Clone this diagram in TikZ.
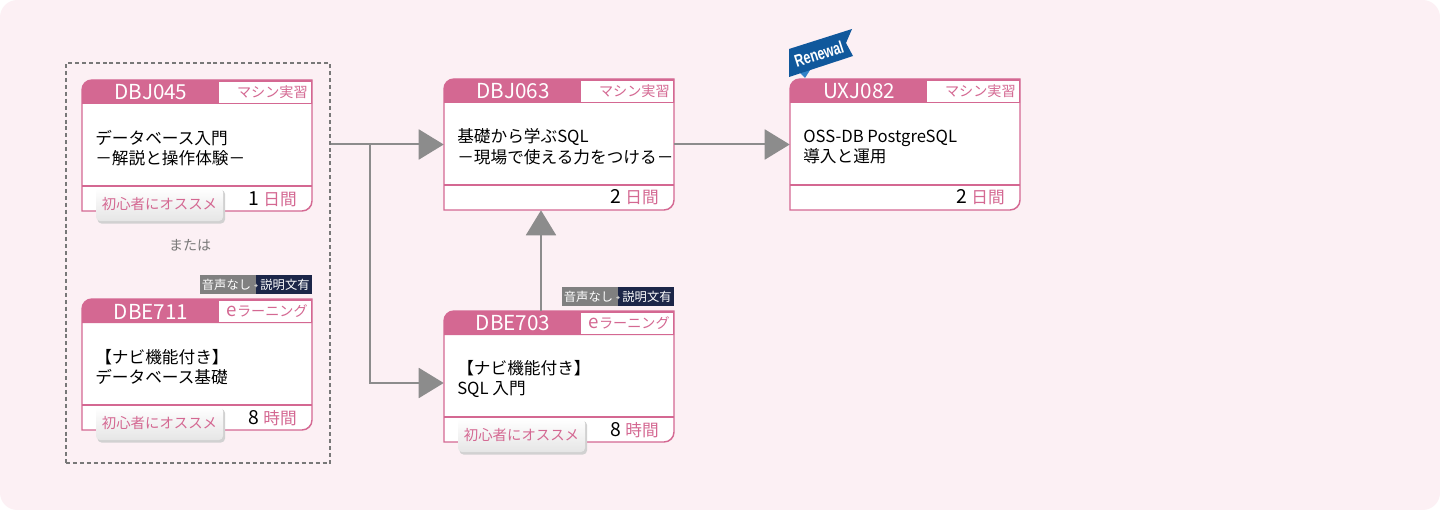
\documentclass[tikz,border=0pt]{standalone}
\usepackage{fontspec}
\setmainfont{Noto Sans CJK JP}
\newfontfamily\renewfont{Liberation Sans}
\usetikzlibrary{arrows.meta,fit}
\definecolor{pk}{RGB}{212,104,146}
\definecolor{bgpk}{RGB}{252,240,244}
\definecolor{cgray}{RGB}{140,140,140}
\definecolor{navy}{RGB}{28,38,72}
\definecolor{bgray}{RGB}{128,128,128}
\definecolor{rbl}{RGB}{16,88,156}
\definecolor{rbl2}{RGB}{50,130,200}
\definecolor{dgray}{RGB}{120,120,120}
\tikzset{
 codetxt/.style={text=white, font=\fontsize{15.5}{17}\selectfont, inner sep=0},
 lbltxt/.style={text=pk, font=\fontsize{10.6}{12}\selectfont, inner sep=0},
 bodytxt/.style={text=black, font=\fontsize{12.5}{15.5}\selectfont, align=left, inner sep=0, anchor=west},
 foottxt/.style={font=\fontsize{14.5}{15}\selectfont, inner sep=0, anchor=base east},
 rectxt/.style={text=pk, font=\fontsize{10.8}{12}\selectfont, inner sep=0},
 badgetxt/.style={text=white, font=\fontsize{9.2}{11}\selectfont, inner sep=0},
 boxnode/.style={minimum width=172.5pt, minimum height=98.25pt, inner sep=0},
 grpbox/.style={draw=dgray, line width=1.1pt, dash pattern=on 3pt off 2.2pt, inner sep=0},
 conn/.style={draw=cgray, line width=1.5pt, -{Triangle[length=18.75pt,width=22.5pt]}},
 ortxt/.style={text=dgray, font=\fontsize{10.5}{12}\selectfont, inner sep=0},
 renewtxt/.style={text=white, font=\renewfont\bfseries\fontsize{13}{13}\selectfont, inner sep=0}
}
\newcommand\coursebox[9]{%
\begin{scope}[shift={(#2,-#3)}]
\fill[white] (0,-131) -- (0,-10) arc[start angle=180,end angle=90,radius=10] -- (230,0) -- (230,-121) arc[start angle=0,end angle=-90,radius=10] -- cycle;
\fill[pk] (0,-24) -- (0,-10) arc[start angle=180,end angle=90,radius=10] -- (230,0) -- (230,-24) -- cycle;
\fill[white] (137,-2) rectangle (228.5,-23);
\node[lbltxt, anchor=east] at (226,-12.5) {#5};
\node[codetxt] at (69,-12.5) {#4};
\draw[pk, line width=1.1pt] (0,-106) -- (230,-106);
\node[bodytxt] at (13,-68) {#6\\#7};
\draw[pk, line width=1.1pt] (0,-131) -- (0,-10) arc[start angle=180,end angle=90,radius=10] -- (230,0) -- (230,-121) arc[start angle=0,end angle=-90,radius=10] -- cycle;
\node[foottxt] at (215,-125) {#8\hspace{3pt}{\color{pk}\fontsize{12.5}{13}\selectfont #9}};
\node[boxnode] (#1) at (115,-65.5) {};
\end{scope}}
\newcommand\recbadge[2]{%
\begin{scope}[shift={(#1,-#2)}]
\fill[black!18, rounded corners=3pt] (15.5,-110) rectangle (143,-143.5);
\shade[top color=white, bottom color=black!10, rounded corners=3pt] (14,-108) rectangle (141,-141);
\node[rectxt] at (77.5,-124.5) {初心者にオススメ};
\end{scope}}
\newcommand\elbadge[2]{%
\begin{scope}[shift={(#1,-#2)}]
\fill[bgray] (118,5) rectangle (174,24);
\fill[navy] (174,5) rectangle (230,24);
\node[badgetxt] at (144.5,14.5) {音声なし};
\node[badgetxt] at (203,14.5) {説明文有};
\fill[white!80!black] (172.3,13) rectangle (175.7,14) (173.5,11.8) rectangle (174.5,15.2);
\end{scope}}
\begin{document}
\begin{tikzpicture}[x=0.75pt,y=0.75pt]
\useasboundingbox (0,0) rectangle (1440,-510);
\fill[white] (0,0) rectangle (1440,-510);
\fill[bgpk, rounded corners=13pt] (0,0) rectangle (1440,-510);
% group
\coordinate (g1) at (66,-63);
\coordinate (g2) at (330,-463);
\node[grpbox, fit=(g1)(g2)] (grp) {};
\node[ortxt] (or) at (190,-245) {または};
% boxes
\coursebox{dbj045}{82}{80}{DBJ045}{マシン実習}{データベース入門}{－解説と操作体験－}{1}{日間}
\recbadge{82}{80}
\elbadge{82}{299}
\coursebox{dbe711}{82}{299}{DBE711}{{\fontsize{14}{14}\selectfont e}ラーニング}{【ナビ機能付き】}{データベース基礎}{8}{時間}
\recbadge{82}{299}
\coursebox{dbj063}{444}{79}{DBJ063}{マシン実習}{基礎から学ぶSQL}{－現場で使える力をつける－}{2}{日間}
\elbadge{444}{311}
\coursebox{dbe703}{444}{311}{DBE703}{{\fontsize{14}{14}\selectfont e}ラーニング}{【ナビ機能付き】}{SQL 入門}{8}{時間}
\recbadge{444}{311}
\coursebox{uxj082}{790}{79}{UXJ082}{マシン実習}{OSS-DB PostgreSQL}{導入と運用}{2}{日間}
% renewal ribbon
\fill[rbl2] (798,-71) -- (812,-67) -- (805,-78) -- cycle;
\fill[rbl] (789,-49) -- (852,-29) -- (846,-43) -- (853,-56) -- (789,-77) -- cycle;
\node[renewtxt, rotate=18, xscale=0.72] (rn) at (819,-54) {Renewal};
% connectors
\draw[conn] (grp.east |- dbj063.west) -- (dbj063.west);
\coordinate (br) at (370,-144.5);
\draw[conn] (br) |- ([yshift=-4.875pt]dbe703.west);
\draw[conn] (dbj063.east) -- (uxj082.west);
\draw[conn] ([xshift=-13.5pt]dbe703.north) -- ([xshift=-13.5pt]dbj063.south);
\end{tikzpicture}
\end{document}
